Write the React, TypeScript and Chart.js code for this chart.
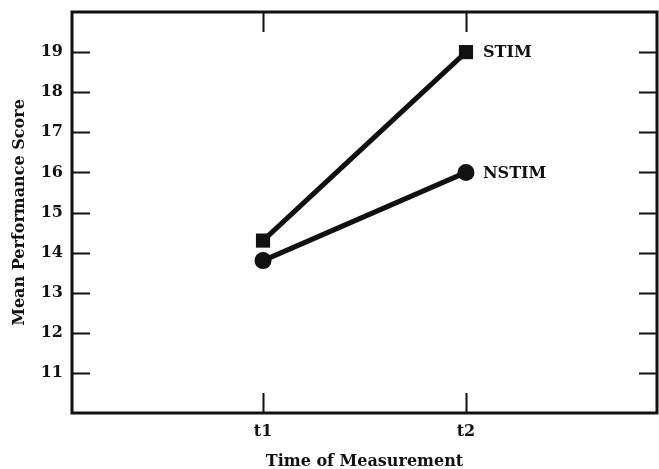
import React, { useEffect, useRef } from "react";
import { Chart, registerables } from "chart.js";

Chart.register(...registerables);

const categories = ["t1", "t2"];
const stimValues = [14.3, 19.0];
const nstimValues = [13.8, 16.0];
const seriesNames = ["STIM", "NSTIM"];
const yTickValues = [11, 12, 13, 14, 15, 16, 17, 18, 19];

const INK = "#111111";
const FONT = "'DejaVu Serif', serif";

const zeroPad = () => ({ left: 0, top: 0, right: 0, bottom: 0 });

const framePlugin = {
  id: "frameAndTicks",
  beforeDatasetsDraw(chart: any) {
    const { ctx, chartArea } = chart;
    const { left, right, top, bottom } = chartArea;
    const xs = chart.scales.x;
    const ys = chart.scales.y;
    ctx.save();
    ctx.strokeStyle = INK;
    ctx.lineWidth = 3;
    ctx.strokeRect(left, top, right - left, bottom - top);
    ctx.lineWidth = 2;
    ctx.beginPath();
    yTickValues.forEach((v) => {
      const py = Math.round(ys.getPixelForValue(v)) + 0.5;
      ctx.moveTo(left, py);
      ctx.lineTo(left + 18, py);
      ctx.moveTo(right, py);
      ctx.lineTo(right - 18, py);
    });
    categories.forEach((_, i) => {
      const px = Math.round(xs.getPixelForValue(i)) + 0.5;
      ctx.moveTo(px, bottom);
      ctx.lineTo(px, bottom - 20);
      ctx.moveTo(px, top);
      ctx.lineTo(px, top + 20);
    });
    ctx.stroke();
    ctx.restore();
  },
  afterDatasetsDraw(chart: any) {
    const { ctx } = chart;
    ctx.save();
    ctx.fillStyle = INK;
    ctx.font = `bold 16px ${FONT}`;
    ctx.textAlign = "left";
    ctx.textBaseline = "middle";
    chart.data.datasets.forEach((ds: any, di: number) => {
      const meta = chart.getDatasetMeta(di);
      const last = meta.data[meta.data.length - 1];
      ctx.fillText(ds.label, last.x + 17, last.y + 1);
    });
    ctx.restore();
  },
};

export default function App() {
  const ref = useRef<HTMLCanvasElement | null>(null);

  useEffect(() => {
    if (!ref.current) return;
    const chart = new Chart(ref.current, {
      type: "line",
      data: {
        datasets: [
          {
            label: seriesNames[0],
            data: stimValues.map((v, i) => ({ x: i, y: v })),
            borderColor: INK,
            backgroundColor: INK,
            borderWidth: 5,
            pointStyle: "rect",
            pointRadius: 10,
            pointBorderWidth: 0,
          },
          {
            label: seriesNames[1],
            data: nstimValues.map((v, i) => ({ x: i, y: v })),
            borderColor: INK,
            backgroundColor: INK,
            borderWidth: 5,
            pointStyle: "circle",
            pointRadius: 8.5,
            pointBorderWidth: 0,
          },
        ],
      },
      options: {
        animation: false,
        responsive: false,
        devicePixelRatio: 1,
        layout: { autoPadding: false, padding: { top: 12, right: 2, left: 0, bottom: 0 } },
        plugins: {
          legend: { display: false },
          tooltip: { enabled: false },
        },
        scales: {
          x: {
            type: "linear",
            min: -0.941,
            max: 1.941,
            afterBuildTicks: (scale: any) => {
              scale.ticks = categories.map((_, i) => ({ value: i }));
            },
            afterFit: (scale: any) => {
              scale.height = 56;
              scale.paddingLeft = 0;
              scale.paddingRight = 0;
              scale.getPadding = zeroPad;
            },
            grid: { display: false, drawTicks: false },
            border: { display: false },
            ticks: {
              padding: 9,
              color: INK,
              font: { family: FONT, weight: "bold", size: 16 },
              callback: (v: any) => categories[v as number] ?? "",
            },
            title: {
              display: true,
              text: "Time of Measurement",
              color: INK,
              font: { family: FONT, weight: "bold", size: 16 },
              padding: { top: 0, bottom: -2 },
            },
          },
          y: {
            type: "linear",
            min: 10,
            max: 20,
            afterBuildTicks: (scale: any) => {
              scale.ticks = yTickValues.map((v) => ({ value: v }));
            },
            afterFit: (scale: any) => {
              scale.width = 72;
              scale.paddingTop = 0;
              scale.paddingBottom = 0;
              scale.getPadding = zeroPad;
            },
            grid: { display: false, drawTicks: false },
            border: { display: false },
            ticks: {
              padding: 9,
              color: INK,
              font: { family: FONT, weight: "bold", size: 16 },
            },
            title: {
              display: true,
              text: "Mean Performance Score",
              color: INK,
              font: { family: FONT, weight: "bold", size: 16 },
              padding: { top: 10, bottom: 0 },
            },
          },
        },
      },
      plugins: [framePlugin],
    } as any);
    return () => chart.destroy();
  }, []);

  return (
    <div style={{ position: "absolute", left: 0, top: 0, width: 659, height: 469, background: "#fff" }}>
      <canvas ref={ref} width={659} height={469} />
    </div>
  );
}
